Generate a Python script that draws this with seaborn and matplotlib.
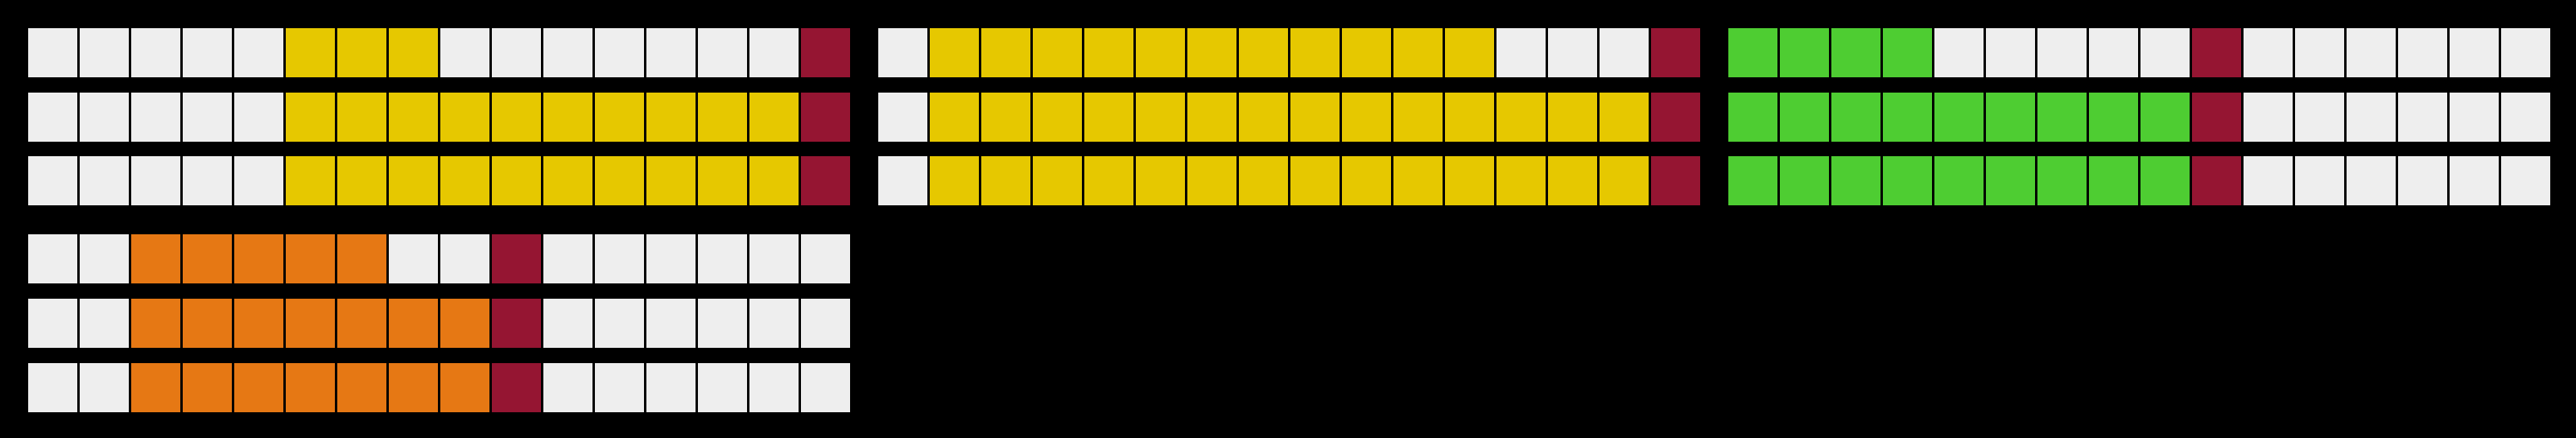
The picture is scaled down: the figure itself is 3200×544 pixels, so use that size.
import numpy as np
import matplotlib
matplotlib.use("Agg")
import matplotlib.pyplot as plt
from matplotlib.colors import ListedColormap
import seaborn as sns

# ---- data ----
n_cells = 16
panel_start = [5, 1, 0, 2]                      # index of first filled cell
panel_fill = [[3, 10, 10], [11, 14, 14], [4, 9, 9], [5, 7, 7]]  # filled cells per row
panel_marker = [15, 15, 9, 9]                   # index of the red marker cell
panel_colors = ["#E6C800", "#E6C800", "#4ECD32", "#E67814"]
empty_color = "#EEEEEE"
marker_color = "#951532"

# ---- layout (pixels) ----
W, H = 3200, 544
pitch = 64
panel_x = [34, 1090, 2146, 34]
panel_y = [[34, 114, 194], [34, 114, 194], [34, 114, 194], [290, 370, 450]]

sns.set_theme(style="white")
fig = plt.figure(figsize=(W / 100, H / 100), dpi=100, facecolor="black")

for p in range(4):
    cmap = ListedColormap([empty_color, panel_colors[p], marker_color])
    for r in range(3):
        row = np.zeros((1, n_cells))
        s = panel_start[p]
        row[0, s:s + panel_fill[p][r]] = 1
        row[0, panel_marker[p]] = 2
        x0 = panel_x[p] - 1.5
        y0 = panel_y[p][r] - 1.5
        ax = fig.add_axes([x0 / W, 1 - (y0 + pitch) / H, n_cells * pitch / W, pitch / H])
        sns.heatmap(row, ax=ax, cmap=cmap, vmin=-0.5, vmax=2.5, cbar=False,
                    linewidths=2.16, linecolor="black",
                    xticklabels=False, yticklabels=False)
        ax.set_facecolor("black")
        ax.set_axis_off()

fig.savefig("out.png", dpi=100, facecolor="black")
